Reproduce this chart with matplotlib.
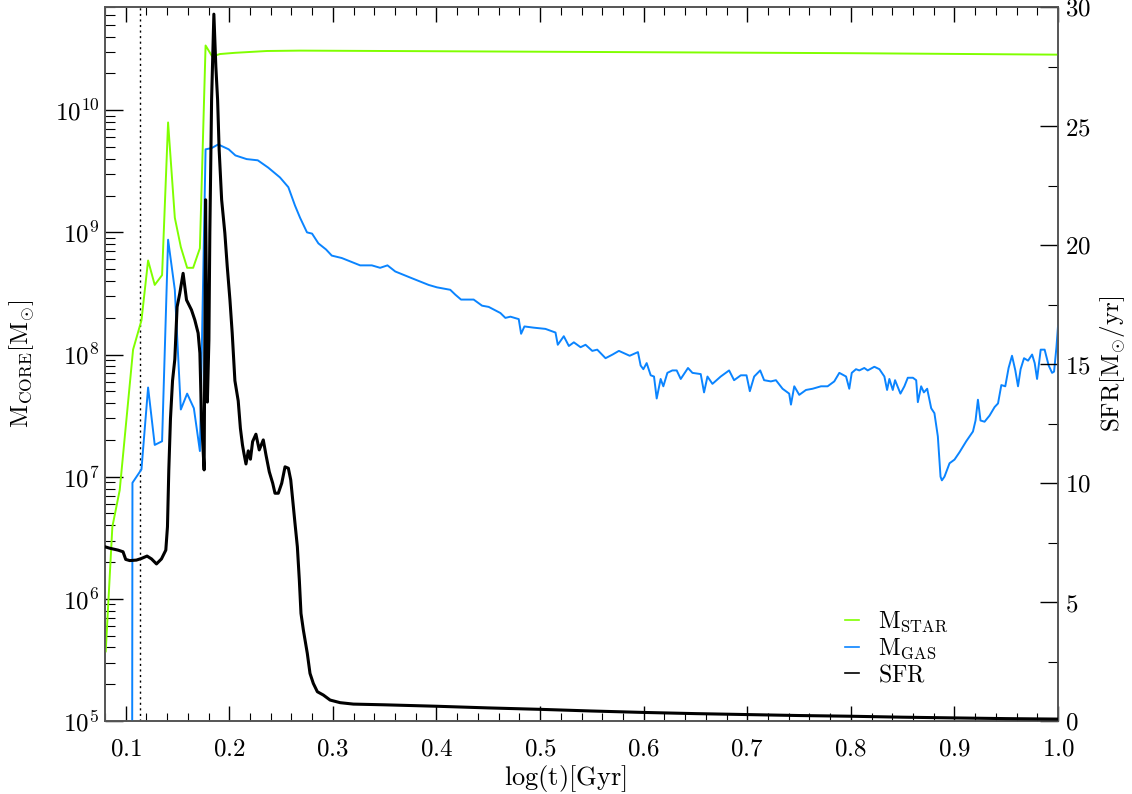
import numpy as np
import matplotlib
matplotlib.use("Agg")
import matplotlib.pyplot as plt
from matplotlib.ticker import MultipleLocator, LogLocator, FuncFormatter, NullFormatter
from matplotlib.lines import Line2D

plt.rcParams['mathtext.fontset'] = 'cm'
plt.rcParams['font.family'] = ['DejaVu Serif']

# ---------------- data ----------------
t_star = [0.0807, 0.0871, 0.0942, 0.1071, 0.1152, 0.1216, 0.1280, 0.1351, 0.1409,
          0.1474, 0.1532, 0.1593, 0.1651, 0.1716, 0.1771, 0.1835, 0.1909, 0.2054,
          0.2364, 0.2683, 0.40, 0.60, 0.80, 1.00]
log_mstar = [5.57, 6.59, 6.89, 8.04, 8.28, 8.77, 8.57, 8.65, 9.90,
             9.12, 8.88, 8.71, 8.71, 8.87, 10.53, 10.44, 10.46, 10.47,
             10.485, 10.488, 10.483, 10.475, 10.467, 10.455]

t_gas = [0.1060, 0.1065, 0.1152, 0.1216, 0.1280, 0.1351, 0.1409, 0.1474, 0.1532, 0.1593,
         0.1658, 0.1716, 0.1771, 0.1829, 0.1893, 0.1994, 0.2059, 0.2167, 0.2275, 0.2376,
         0.2489, 0.2570, 0.2634, 0.2683, 0.2750, 0.2799, 0.2860, 0.2934, 0.2989, 0.3086,
         0.3263, 0.3376, 0.3456, 0.3527, 0.3602, 0.3747, 0.3924, 0.4005, 0.4133, 0.4182,
         0.4237, 0.4359, 0.4440, 0.4504, 0.4617, 0.4665, 0.4714, 0.4794, 0.4817, 0.4849,
         0.4939, 0.5052, 0.5149, 0.5171, 0.5229, 0.5278, 0.5326, 0.5391, 0.5439, 0.5504,
         0.5552, 0.5632, 0.5700, 0.5761, 0.5865, 0.5945, 0.5971, 0.5997, 0.6029, 0.6068,
         0.6100, 0.6126, 0.6164, 0.6190, 0.6229, 0.6277, 0.6319, 0.6358, 0.6428, 0.6471,
         0.6551, 0.6583, 0.6616, 0.6664, 0.6744, 0.6825, 0.6873, 0.6938, 0.6993, 0.7025,
         0.7067, 0.7125, 0.7163, 0.7228, 0.7277, 0.7341, 0.7405, 0.7422, 0.7454, 0.7502,
         0.7567, 0.7631, 0.7712, 0.7776, 0.7840, 0.7889, 0.7954, 0.7985, 0.8009, 0.8050,
         0.8082, 0.8130, 0.8163, 0.8227, 0.8276, 0.8324, 0.8350, 0.8372, 0.8405, 0.8427,
         0.8479, 0.8517, 0.8550, 0.8599, 0.8631, 0.8647, 0.8679, 0.8705, 0.8737, 0.8776,
         0.8807, 0.8840, 0.8866, 0.8879, 0.8904, 0.8953, 0.9001, 0.9049, 0.9114, 0.9179,
         0.9204, 0.9227, 0.9252, 0.9291, 0.9339, 0.9388, 0.9421, 0.9453, 0.9491, 0.9523,
         0.9556, 0.9588, 0.9614, 0.9639, 0.9672, 0.9711, 0.9750, 0.9775, 0.9798, 0.9833,
         0.9871, 0.9910, 0.9943, 0.9962, 0.9985, 1.0000]
log_mgas = [3.00, 6.95, 7.06, 7.73, 7.26, 7.29, 8.94, 8.53, 7.55, 7.68,
            7.56, 7.21, 9.68, 9.69, 9.72, 9.68, 9.63, 9.60, 9.59, 9.53,
            9.45, 9.37, 9.22, 9.12, 9.00, 8.99, 8.91, 8.86, 8.81, 8.79,
            8.73, 8.73, 8.71, 8.73, 8.68, 8.63, 8.57, 8.55, 8.53, 8.49,
            8.45, 8.45, 8.40, 8.39, 8.34, 8.30, 8.31, 8.29, 8.17, 8.23,
            8.22, 8.21, 8.18, 8.08, 8.15, 8.07, 8.10, 8.06, 8.08, 8.03,
            8.04, 7.97, 8.00, 8.03, 7.99, 8.02, 7.91, 7.88, 7.93, 7.83,
            7.82, 7.64, 7.80, 7.74, 7.85, 7.87, 7.87, 7.80, 7.89, 7.85,
            7.84, 7.69, 7.82, 7.76, 7.82, 7.87, 7.79, 7.83, 7.83, 7.70,
            7.82, 7.87, 7.79, 7.78, 7.79, 7.72, 7.68, 7.59, 7.74, 7.67,
            7.71, 7.72, 7.74, 7.74, 7.78, 7.85, 7.82, 7.72, 7.85, 7.88,
            7.87, 7.89, 7.87, 7.90, 7.88, 7.82, 7.71, 7.80, 7.71, 7.79,
            7.68, 7.74, 7.81, 7.81, 7.79, 7.61, 7.74, 7.69, 7.72, 7.56,
            7.52, 7.33, 7.00, 6.97, 7.00, 7.11, 7.14, 7.20, 7.29, 7.37,
            7.46, 7.63, 7.46, 7.45, 7.50, 7.57, 7.60, 7.75, 7.74, 7.89,
            7.99, 7.87, 7.74, 7.88, 7.97, 7.95, 8.00, 7.93, 7.80, 8.04,
            8.04, 7.91, 7.85, 7.86, 8.06, 8.23]

t_sfr = [0.0800, 0.0845, 0.0926, 0.0974, 0.1000, 0.1039, 0.1103, 0.1152, 0.1206, 0.1249,
         0.1297, 0.1345, 0.1387, 0.1403, 0.1416, 0.1432, 0.1452, 0.1474, 0.1496, 0.1522,
         0.1554, 0.1587, 0.1635, 0.1667, 0.1699, 0.1716, 0.1732, 0.1757, 0.1771, 0.1788,
         0.1803, 0.1812, 0.1829, 0.1851, 0.1870, 0.1887, 0.1902, 0.1926, 0.1957, 0.1980,
         0.2006, 0.2028, 0.2054, 0.2086, 0.2107, 0.2127, 0.2141, 0.2161, 0.2183, 0.2204,
         0.2225, 0.2257, 0.2289, 0.2328, 0.2354, 0.2386, 0.2419, 0.2441, 0.2473, 0.2506,
         0.2538, 0.2570, 0.2593, 0.2612, 0.2634, 0.2657, 0.2676, 0.2692, 0.2715, 0.2753,
         0.2779, 0.2811, 0.2850, 0.2908, 0.2973, 0.3070, 0.3198, 0.35, 0.40, 0.45,
         0.50, 0.55, 0.60, 0.65, 0.70, 0.75, 0.80, 0.85, 0.90, 0.95, 1.00]
sfr = [7.32, 7.26, 7.18, 7.11, 6.79, 6.74, 6.76, 6.83, 6.93, 6.81,
       6.60, 6.81, 7.18, 8.16, 10.55, 12.7, 14.3, 15.2, 17.4, 17.97,
       18.81, 17.69, 17.27, 16.85, 16.30, 15.46, 12.65, 10.55, 21.9, 13.4,
       16.0, 20.5, 26.1, 29.7, 27.5, 26.1, 24.0, 21.9, 20.5, 19.1,
       17.7, 16.3, 14.3, 13.45, 12.3, 11.6, 11.25, 10.8, 11.35, 11.0,
       11.74, 12.05, 11.39, 11.81, 11.18, 10.47, 9.99, 9.57, 9.57, 9.99,
       10.68, 10.62, 10.13, 9.29, 8.31, 7.32, 5.92, 4.52, 3.82, 2.84,
       2.00, 1.58, 1.23, 1.09, 0.88, 0.77, 0.71, 0.68, 0.62, 0.55,
       0.49, 0.42, 0.36, 0.31, 0.27, 0.23, 0.20, 0.16, 0.13, 0.10, 0.08]

t_marker = 0.1135

x_ticks_major = 0.1
x_ticks_minor = 0.02

green = '#80ff00'
blue = '#0a84ff'
spine_c = '#555555'

# ---------------- figure ----------------
fig = plt.figure(figsize=(11.32, 7.94), dpi=100)
ax = fig.add_axes([105/1132, 1-721/794, 953/1132, 714/794])
ax.set_yscale('log')
ax.set_xlim(0.08, 1.0)
ax.set_ylim(1e5, 7e10)

ax.plot(t_star, 10**np.array(log_mstar), color=green, lw=1.4, zorder=3)
ax.plot(t_gas, 10**np.array(log_mgas), color=blue, lw=1.4, zorder=3)
ax.axvline(t_marker, color='k', lw=1.0, ls=(0, (1.5, 2.5)), zorder=2)

ax2 = ax.twinx()
ax2.set_ylim(0, 30)
ax2.plot(t_sfr, sfr, color='k', lw=2.2, zorder=4)

# ticks
ax.xaxis.set_major_locator(MultipleLocator(x_ticks_major))
ax.xaxis.set_minor_locator(MultipleLocator(x_ticks_minor))
ax.xaxis.set_major_formatter(FuncFormatter(lambda v, p: r'$%.1f$' % v))
ax.tick_params(axis='x', which='both', direction='in', top=True, bottom=True,
               labelsize=18, pad=12, color='k')
ax.tick_params(axis='x', which='major', length=11, width=1.0)
ax.tick_params(axis='x', which='minor', length=6, width=0.8)

ax.yaxis.set_major_locator(LogLocator(base=10, numticks=20))
ax.yaxis.set_minor_locator(LogLocator(base=10, subs=np.arange(2, 10), numticks=20))
ax.yaxis.set_major_formatter(FuncFormatter(lambda v, p: r'$10^{%d}$' % int(round(np.log10(v)))))
ax.yaxis.set_minor_formatter(NullFormatter())
ax.tick_params(axis='y', which='both', direction='in', left=True, right=False,
               labelsize=18, pad=4, color='k')
ax.tick_params(axis='y', which='major', length=13, width=1.0)
ax.tick_params(axis='y', which='minor', length=7, width=0.8)

ax2.yaxis.set_major_locator(MultipleLocator(5))
ax2.yaxis.set_minor_locator(MultipleLocator(2.5))
ax2.yaxis.set_major_formatter(FuncFormatter(lambda v, p: r'$%d$' % int(round(v))))
ax2.tick_params(axis='y', which='both', direction='in', right=True, left=False,
                labelsize=18, pad=5, color='k')
ax2.tick_params(axis='y', which='major', length=13, width=1.0)
ax2.tick_params(axis='y', which='minor', length=7, width=0.8)

for a in (ax, ax2):
    for s in a.spines.values():
        s.set_color(spine_c)
        s.set_linewidth(1.2)

# axis labels
fig.text(565/1132, 1-779/794, r'$\mathrm{log(t)[Gyr]}$', ha='center', va='center', fontsize=19)
fig.text(22/1132, 1-364/794, r'$\mathrm{M_{CORE}[M_{\odot}]}$', ha='center', va='center',
         rotation=90, fontsize=18)
fig.text(1113/1132, 1-364/794, r'$\mathrm{SFR[M_{\odot}/yr]}$', ha='center', va='center',
         rotation=90, fontsize=18)

# legend
handles = [Line2D([], [], color=green, lw=1.2),
           Line2D([], [], color=blue, lw=1.2),
           Line2D([], [], color='k', lw=1.2)]
labels = [r'$\mathrm{M_{STAR}}$', r'$\mathrm{M_{GAS}}$', r'$\mathrm{SFR}$']
leg = ax2.legend(handles, labels, loc='upper left', bbox_to_anchor=(845/1132, 1-610/794),
                 bbox_transform=fig.transFigure, frameon=False, fontsize=17,
                 handlelength=0.6, handletextpad=0.8, labelspacing=0.1,
                 borderpad=0, borderaxespad=0)

fig.savefig('out.png', dpi=100)
